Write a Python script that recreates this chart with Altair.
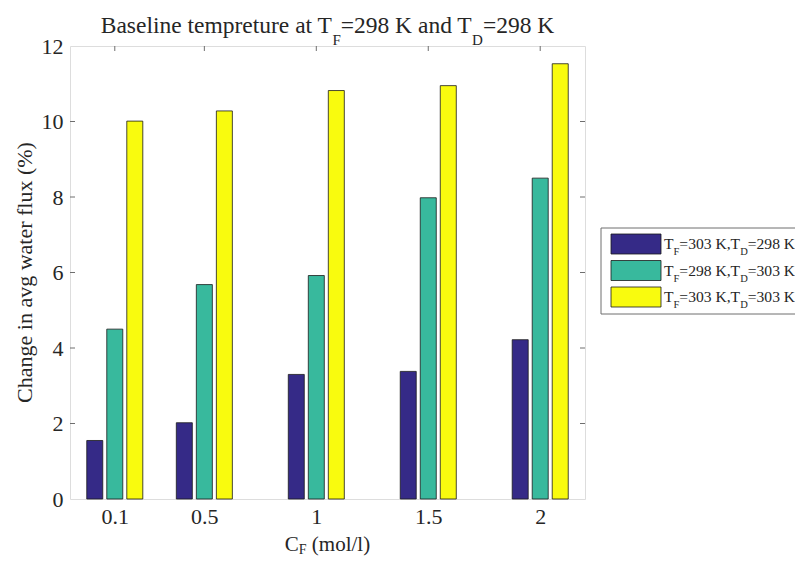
import altair as alt
import pandas as pd

# ---------------- data ----------------
concentrations = [0.1, 0.5, 1, 1.5, 2]
x_tick_values = [0.1, 0.5, 1, 1.5, 2]
y_tick_values = [0, 2, 4, 6, 8, 10, 12]
series_names = ["TF=303 K,TD=298 K", "TF=298 K,TD=303 K", "TF=303 K,TD=303 K"]
series_tf = ["303", "298", "303"]
series_td = ["298", "303", "303"]
s1_values = [1.55, 2.02, 3.30, 3.38, 4.22]
s2_values = [4.50, 5.68, 5.92, 7.98, 8.50]
s3_values = [10.01, 10.28, 10.82, 10.95, 11.53]
colors = ["#352a87", "#38b99d", "#f9fb0e"]

# ---------------- layout ----------------
W, H = 515, 453
FONT = "Liberation Serif"
TXT = "#262626"
FRAME = "#6e6e6e"

rows = []
for i, (name, vals) in enumerate(zip(series_names, [s1_values, s2_values, s3_values])):
    for c, v in zip(concentrations, vals):
        rows.append({"conc": c, "series": name, "idx": i, "value": v})
df = pd.DataFrame(rows)

xscale = alt.Scale(domain=[-0.1, 2.2], nice=False, zero=False)
yscale = alt.Scale(domain=[0, 12], nice=False, zero=True)
cscale = alt.Scale(domain=series_names, range=colors)

xaxis = alt.Axis(values=x_tick_values, format="~g", title=None, grid=False,
                 domain=False, ticks=False, labelFont=FONT, labelFontSize=22,
                 labelColor=TXT, labelPadding=7, labelFlush=False)
yaxis = alt.Axis(values=y_tick_values, title=None, grid=False, domain=False,
                 ticks=False, labelFont=FONT, labelFontSize=22, labelColor=TXT,
                 labelPadding=7, labelFlush=False)

pitch = 0.0894
bw = 0.0715

bars = alt.Chart(df).transform_calculate(
    x0=f"datum.conc + (datum.idx - 1) * {pitch} - {bw / 2}",
    x1=f"datum.conc + (datum.idx - 1) * {pitch} + {bw / 2}",
).mark_bar(stroke="#1a1a1a", strokeWidth=0.8).encode(
    x=alt.X("x0:Q", scale=xscale, axis=xaxis),
    x2="x1:Q",
    y=alt.Y("value:Q", scale=yscale, axis=yaxis),
    y2=alt.datum(0),
    color=alt.Color("series:N", scale=cscale, legend=None),
)

one = pd.DataFrame({"k": [0]})
ydf = pd.DataFrame({"v": y_tick_values[1:-1]})
xdf = pd.DataFrame({"v": x_tick_values})
TL = 5

tick_layers = [
    alt.Chart(ydf).mark_rule(color=FRAME).encode(y=alt.Y("v:Q", scale=yscale, axis=yaxis), x=alt.value(0), x2=alt.value(TL)),
    alt.Chart(ydf).mark_rule(color=FRAME).encode(y=alt.Y("v:Q", scale=yscale, axis=yaxis), x=alt.value(W - TL), x2=alt.value(W)),
    alt.Chart(xdf).mark_rule(color=FRAME).encode(x=alt.X("v:Q", scale=xscale, axis=xaxis), y=alt.value(0), y2=alt.value(TL)),
    alt.Chart(xdf).mark_rule(color=FRAME).encode(x=alt.X("v:Q", scale=xscale, axis=xaxis), y=alt.value(H - TL), y2=alt.value(H)),
]

# Times metrics for layout of rich text (subscripts)
TIMES = {' ': 250, 'B': 667, 'a': 444, 's': 389, 'e': 444, 'l': 278, 'i': 278,
         'n': 500, 't': 278, 'm': 778, 'p': 500, 'r': 333, 'u': 500, 'T': 611, 'F': 556,
         '=': 564, 'K': 722, 'd': 500, 'D': 722, ',': 250, 'C': 667, '(': 333, ')': 333,
         'o': 500, '/': 278, '.': 250}


def tw(s, size):
    return sum(TIMES.get(ch, 500) for ch in s) / 1000.0 * size


def rich(segments, x, y, size, sub_size, sub_drop, align="left"):
    total = sum(tw(t, sub_size if s else size) for t, s in segments)
    if align == "center":
        x -= total / 2
    layers = []
    for t, s in segments:
        fs = sub_size if s else size
        stripped = t.lstrip(" ")
        x += tw(t[: len(t) - len(stripped)], fs)
        layers.append(
            alt.Chart(one).mark_text(text=stripped, align="left", baseline="alphabetic", font=FONT,
                                     fontSize=fs, color=TXT).encode(
                x=alt.value(x), y=alt.value(y + (sub_drop if s else 0)))
        )
        x += tw(stripped, fs)
    return layers


title_layers = rich([("Baseline tempreture at T", False), ("F", True), ("=298 K and T", False),
                     ("D", True), ("=298 K", False)],
                    W / 2, -13, 23.5, 15, 12, align="center")

xlabel_layers = rich([("C", False), ("F", True), (" (mol/l)", False)],
                     W / 2, 505, 21, 14, 3, align="center")

ylabel = alt.Chart(one).mark_text(text="Change in avg water flux (%)", angle=270, align="center",
                                  baseline="middle", font=FONT, fontSize=22, color=TXT).encode(
    x=alt.value(-45), y=alt.value(H / 2))

# legend
LX0, LX1, LY0, LY1 = 531, 760, 182, 268
legend_layers = [
    alt.Chart(one).mark_rect(fill="white", stroke=FRAME, strokeWidth=1).encode(
        x=alt.value(LX0), x2=alt.value(LX1), y=alt.value(LY0), y2=alt.value(LY1))
]
row_centers = [198, 224.5, 251]
for i in range(3):
    yc = row_centers[i]
    legend_layers.append(
        alt.Chart(one).mark_rect(fill=colors[i], stroke="#1a1a1a", strokeWidth=0.8).encode(
            x=alt.value(541), x2=alt.value(591), y=alt.value(yc - 10), y2=alt.value(yc + 10))
    )
    legend_layers += rich([("T", False), ("F", True), ("=" + series_tf[i] + " K,T", False),
                           ("D", True), ("=" + series_td[i] + " K", False)],
                          594, yc + 5, 15.6, 10.5, 6)

chart = alt.layer(*tick_layers, bars, *title_layers, *xlabel_layers, ylabel, *legend_layers).properties(
    width=W, height=H,
    autosize=alt.AutoSizeParams(type="none"),
    padding={"left": 62, "top": 38, "right": 210, "bottom": 57},
).configure_view(stroke=FRAME, strokeWidth=1).configure_axis(
    labelFont=FONT, labelFontSize=22, labelColor=TXT
).configure(background="white")

chart.save("out.html", embed_options={"renderer": "svg", "actions": False})
